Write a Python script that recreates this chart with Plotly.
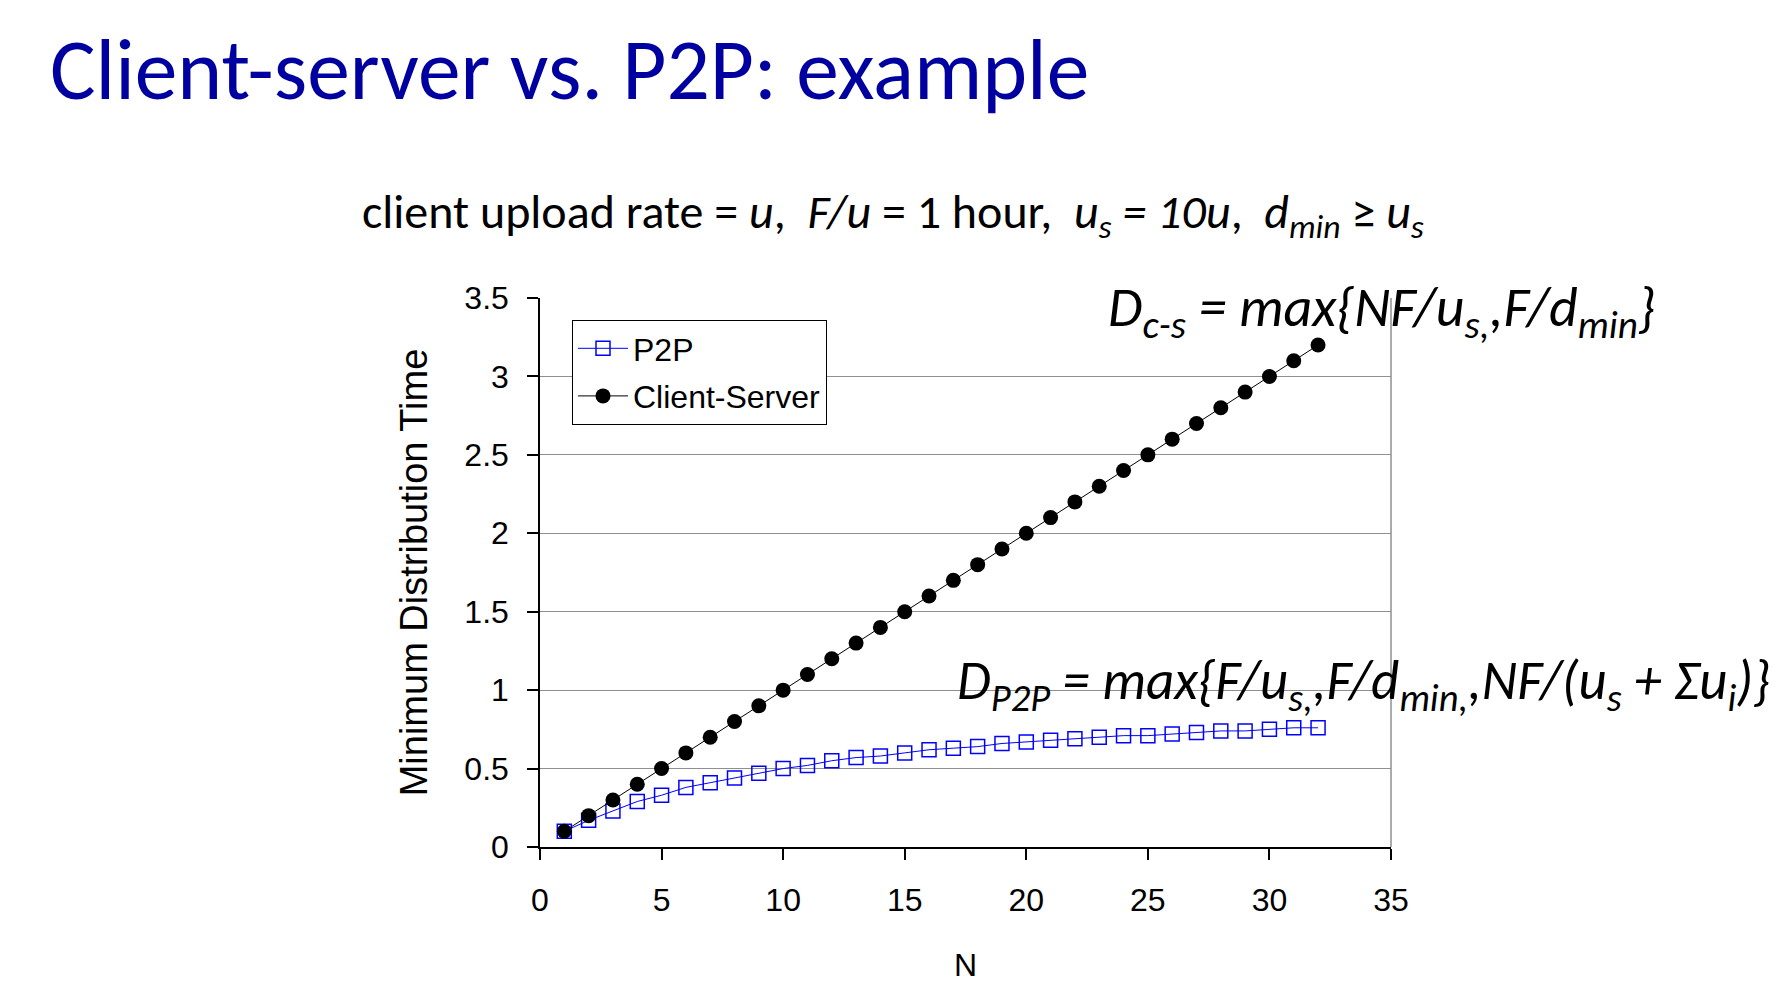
import plotly.graph_objects as go

# Data
N = list(range(1, 33))
p2p = [0.10, 0.17, 0.23, 0.29, 0.33, 0.38, 0.41, 0.44, 0.47, 0.50,
       0.52, 0.55, 0.57, 0.58, 0.60, 0.62, 0.63, 0.64, 0.66, 0.67,
       0.68, 0.69, 0.70, 0.71, 0.71, 0.72, 0.73, 0.74, 0.74, 0.75,
       0.76, 0.76]
client_server = [0.1, 0.2, 0.3, 0.4, 0.5, 0.6, 0.7, 0.8, 0.9, 1.0,
                 1.1, 1.2, 1.3, 1.4, 1.5, 1.6, 1.7, 1.8, 1.9, 2.0,
                 2.1, 2.2, 2.3, 2.4, 2.5, 2.6, 2.7, 2.8, 2.9, 3.0,
                 3.1, 3.2]
x_ticks = [0, 5, 10, 15, 20, 25, 30, 35]
y_ticks = [0, 0.5, 1, 1.5, 2, 2.5, 3, 3.5]

W, H = 1783, 981
L, R, T, B = 532, 1383, 290, 839  # plot area in pixels

def px(xp):
    return (xp - L) / (R - L)

def py(yp):
    return (B - yp) / (B - T)

ARIAL = "Liberation Sans, Arial, sans-serif"
CAL = "Carlito, Calibri, 'Open Sans', sans-serif"

fig = go.Figure()
fig.add_trace(go.Scatter(
    x=N, y=p2p, name="P2P", mode="lines+markers", legendgroup="a",
    line=dict(color="#0000FF", width=1),
    marker=dict(symbol="square-open", size=14, color="#0000FF", line=dict(width=1.5, color="#0000FF")),
))
fig.add_trace(go.Scatter(
    x=N, y=client_server, name="Client-Server", mode="lines+markers", legendgroup="b",
    line=dict(color="black", width=1),
    marker=dict(symbol="circle", size=15, color="black"),
))

fig.update_layout(
    width=W, height=H,
    margin=dict(l=L, r=W - R, t=T, b=H - B, autoexpand=False),
    plot_bgcolor="white", paper_bgcolor="white",
    font=dict(family=ARIAL, size=32, color="black"),
    showlegend=True,
    legend=dict(x=px(564), y=py(312), xanchor="left", yanchor="top",
                bordercolor="black", borderwidth=1, bgcolor="white",
                font=dict(family=ARIAL, size=32, color="black"),
                itemwidth=50,
                traceorder="grouped", tracegroupgap=3),
    xaxis=dict(range=[0, 35], tickvals=x_ticks, showgrid=False, zeroline=False,
               showline=True, linecolor="black", linewidth=1.5,
               ticks="outside", ticklen=11, tickcolor="black", tickwidth=1.5,
               ticklabelstandoff=13,
               tickfont=dict(family=ARIAL, size=32, color="black"),
               title=dict(text="N", font=dict(family=ARIAL, size=32, color="black"), standoff=36)),
    yaxis=dict(range=[0, 3.5], tickvals=y_ticks, showgrid=True, gridcolor="#8f8f8f", gridwidth=1,
               zeroline=False, showline=True, linecolor="black", linewidth=1.5,
               ticks="outside", ticklen=11, tickcolor="black", tickwidth=1.5,
               ticklabelstandoff=12,
               tickfont=dict(family=ARIAL, size=32, color="black"),
               title=dict(text="Minimum Distribution Time", font=dict(family=ARIAL, size=38, color="black"), standoff=25)),
)

fig.add_shape(type="line", xref="paper", yref="paper", x0=1, x1=1, y0=0, y1=1,
              line=dict(color="#8f8f8f", width=1.5))

fig.add_annotation(text="Client-server vs. P2P: example", xref="paper", yref="paper",
                   x=px(40), y=py(62), xanchor="left", yanchor="middle", showarrow=False,
                   font=dict(family=CAL, size=85.5, color="#0000A0"))
fig.add_annotation(text="client upload rate = <i>u</i>,  <i>F/u</i> = 1 hour,  <i>u<sub>s</sub> = 10u</i>,  <i>d<sub>min</sub></i> ≥ <i>u<sub>s</sub></i>",
                   xref="paper", yref="paper",
                   x=px(352), y=py(206), xanchor="left", yanchor="middle", showarrow=False,
                   font=dict(family=CAL, size=48, color="black"))
fig.add_annotation(text="D<sub>c-s</sub> = max{NF/u<sub>s,</sub>,F/d<sub>min</sub>}",
                   xref="paper", yref="paper",
                   x=px(1098), y=py(303), xanchor="left", yanchor="middle", showarrow=False,
                   font=dict(family=CAL, size=56, color="black", style="italic"))
fig.add_annotation(text="D<sub>P2P</sub> = max{F/u<sub>s,</sub>,F/d<sub>min,</sub>,NF/(u<sub>s</sub> + Σu<sub>i</sub>)}",
                   xref="paper", yref="paper",
                   x=px(947), y=py(676), xanchor="left", yanchor="middle", showarrow=False,
                   font=dict(family=CAL, size=55, color="black", style="italic"))

fig.write_html("out.html")
